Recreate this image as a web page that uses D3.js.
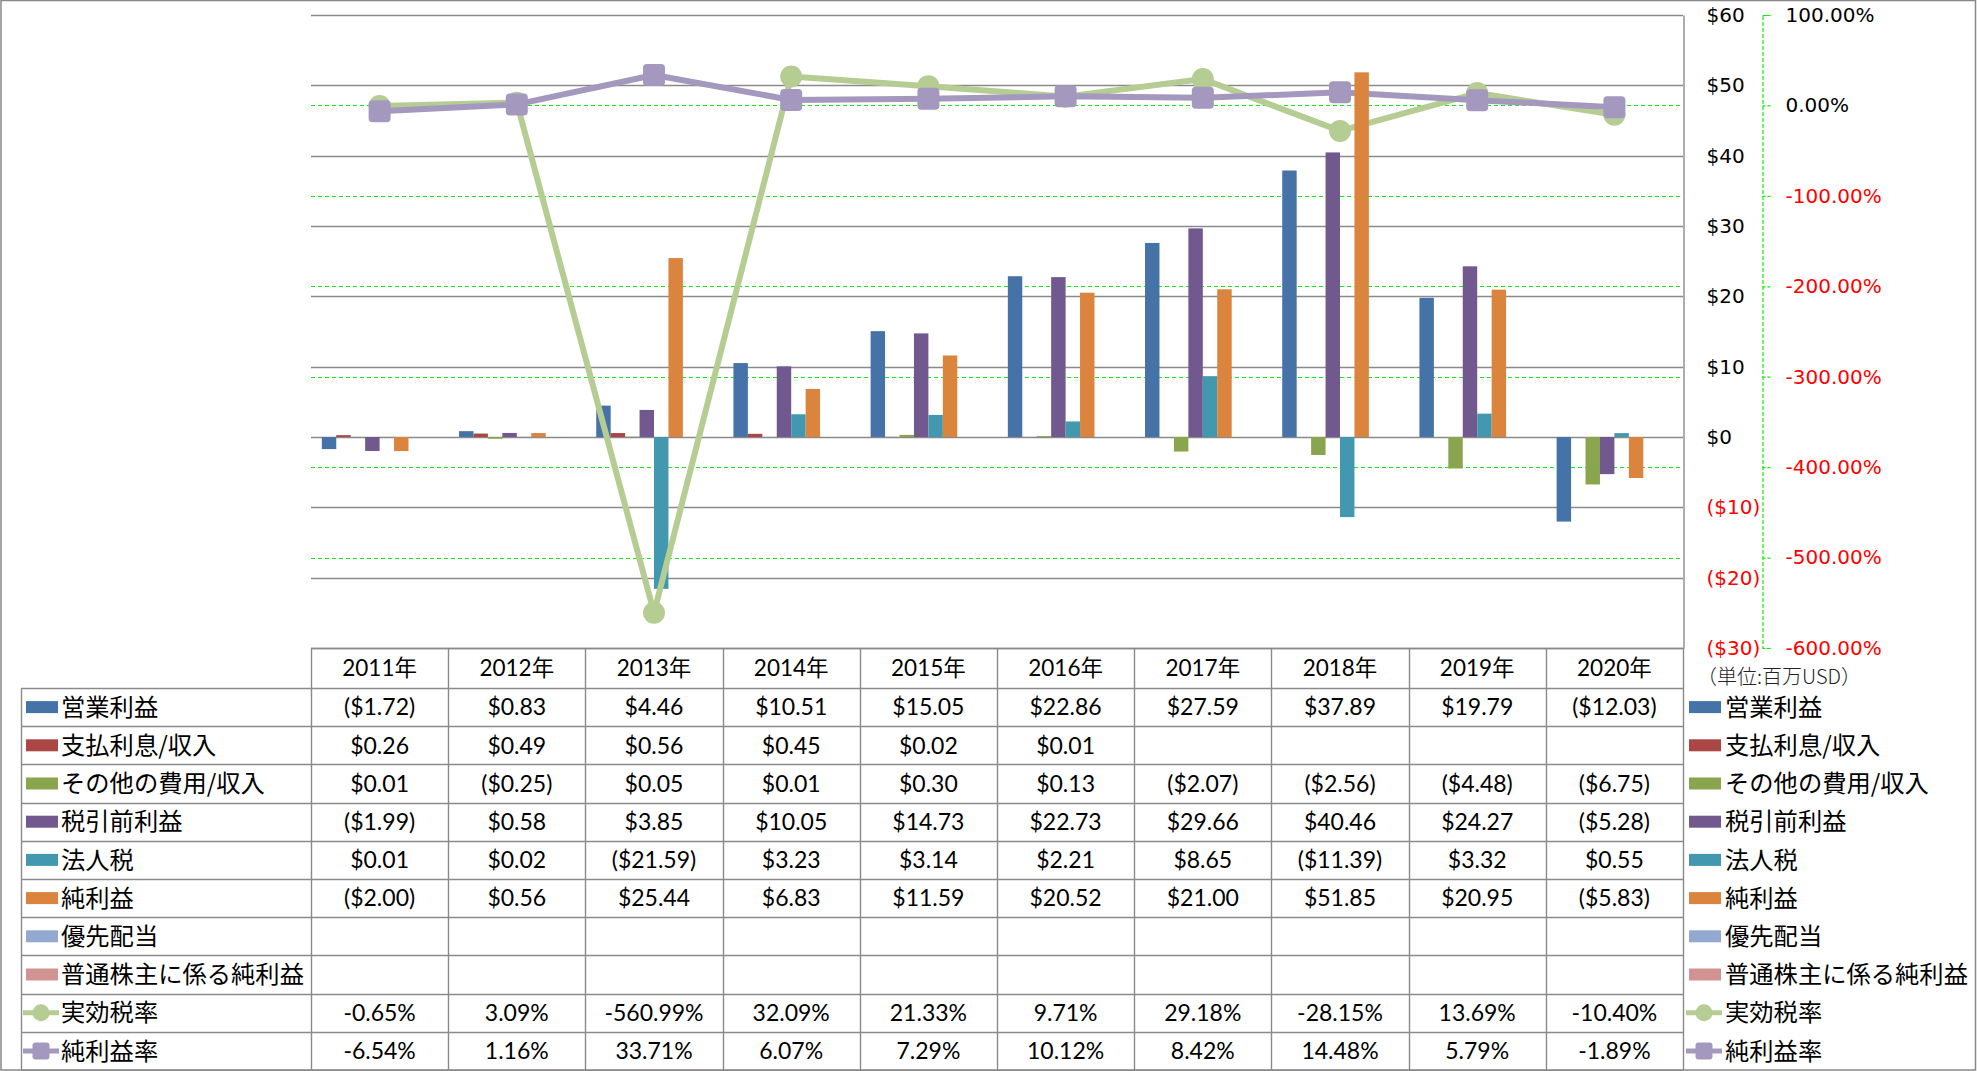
<!DOCTYPE html>
<html>
<head>
<meta charset="utf-8">
<script src="https://cdn.jsdelivr.net/npm/d3@7"></script>
<style>
  html, body { margin: 0; padding: 0; background: #fff; }
  svg { display: block; }
</style>
</head>
<body>
<svg id="chart" width="1977" height="1071"></svg>
<script>
// ---------------- DATA ----------------
const years = ["2011", "2012", "2013", "2014", "2015", "2016", "2017", "2018", "2019", "2020"];
const opIncome   = [-1.72, 0.83, 4.46, 10.51, 15.05, 22.86, 27.59, 37.89, 19.79, -12.03];
const interest   = [0.26, 0.49, 0.56, 0.45, 0.02, 0.01, null, null, null, null];
const otherExp   = [0.01, -0.25, 0.05, 0.01, 0.30, 0.13, -2.07, -2.56, -4.48, -6.75];
const preTax     = [-1.99, 0.58, 3.85, 10.05, 14.73, 22.73, 29.66, 40.46, 24.27, -5.28];
const incomeTax  = [0.01, 0.02, -21.59, 3.23, 3.14, 2.21, 8.65, -11.39, 3.32, 0.55];
const netIncome  = [-2.00, 0.56, 25.44, 6.83, 11.59, 20.52, 21.00, 51.85, 20.95, -5.83];
const preferred  = [null, null, null, null, null, null, null, null, null, null];
const commonNet  = [null, null, null, null, null, null, null, null, null, null];
const effTaxRate = [-0.65, 3.09, -560.99, 32.09, 21.33, 9.71, 29.18, -28.15, 13.69, -10.40];   // %
const netMargin  = [-6.54, 1.16, 33.71, 6.07, 7.29, 10.12, 8.42, 14.48, 5.79, -1.89];          // %

const leftTicks  = [-30, -20, -10, 0, 10, 20, 30, 40, 50, 60];
const rightTicks = [-600, -500, -400, -300, -200, -100, 0, 100];
const unitLabel  = "（単位:百万USD）";
const yearSuffix = "年";

const barSeries = [
  { name: "営業利益", values: opIncome, color: "#4572A7" },
  { name: "支払利息/収入", values: interest, color: "#AA4643" },
  { name: "その他の費用/収入", values: otherExp, color: "#89A54E" },
  { name: "税引前利益", values: preTax, color: "#71588F" },
  { name: "法人税", values: incomeTax, color: "#4198AF" },
  { name: "純利益", values: netIncome, color: "#DB843D" },
  { name: "優先配当", values: preferred, color: "#93A9CF" },
  { name: "普通株主に係る純利益", values: commonNet, color: "#D19392" }
];
const lineSeries = [
  { name: "実効税率", values: effTaxRate, color: "#B5CC93", marker: "circle" },
  { name: "純利益率", values: netMargin, color: "#A598BE", marker: "square" }
];

// ---------------- LAYOUT ----------------
const svg = d3.select("#chart");
const W = 1977, H = 1071;
const plotL = 311, plotR = 1683, plotT = 15, plotB = 648;
const tableLeft = 21, headerH = 40, rowH = 38.2;
const rowsTop = plotB + headerH;

const numFont = "Lato, 'Noto Sans CJK JP', sans-serif";
const jpFont = "'Noto Sans CJK JP', 'Noto Sans', sans-serif";
const axisFont = "'DejaVu Sans', Verdana, sans-serif";

const x = d3.scaleBand().domain(years).range([plotL, plotR]).padding(0);
const bw = x.bandwidth();
const slot = bw / 9.5;
const xs = d3.scaleBand().domain(barSeries.map(s => s.name)).range([0.75 * slot, bw - 0.75 * slot]).padding(0);
const yL = d3.scaleLinear().domain([-30, 60]).range([plotB, plotT]);
const yR = d3.scaleLinear().domain([-600, 100]).range([plotB, plotT]);

// outer border
svg.append("rect").attr("x", 1).attr("y", 0.5).attr("width", W - 2.5).attr("height", H - 1.5)
  .attr("fill", "#fff").attr("stroke", "#888").attr("stroke-width", 1.5);

// gridlines (primary)
svg.append("g").selectAll("line").data(leftTicks).join("line")
  .attr("x1", plotL).attr("x2", plotR)
  .attr("y1", d => Math.round(yL(d)) + 0.5).attr("y2", d => Math.round(yL(d)) + 0.5)
  .attr("stroke", "#8a8a8a").attr("stroke-width", 1.4);

// gridlines (secondary, green dashed)
svg.append("g").selectAll("line").data(rightTicks.filter(d => d < 100)).join("line")
  .attr("x1", plotL).attr("x2", plotR)
  .attr("y1", d => Math.round(yR(d)) + 0.5).attr("y2", d => Math.round(yR(d)) + 0.5)
  .attr("stroke", "#10f010").attr("stroke-width", 1.2).attr("stroke-dasharray", "4,3");

// bars drawn beneath lines
function drawBars(list) {
  const g = svg.append("g");
  list.forEach(s => {
    g.append("g").selectAll("rect")
      .data(years.map((yr, i) => ({ yr, v: s.values[i] })).filter(d => d.v !== null))
      .join("rect")
      .attr("x", d => x(d.yr) + xs(s.name))
      .attr("width", xs.bandwidth())
      .attr("y", d => yL(Math.max(0, d.v)))
      .attr("height", d => Math.abs(yL(d.v) - yL(0)))
      .attr("fill", s.color);
  });
}
drawBars(barSeries.slice(0, 5));

// lines
lineSeries.forEach(s => {
  const pts = years.map((yr, i) => ({ yr, v: s.values[i] }));
  const line = d3.line().x(d => x(d.yr) + bw / 2).y(d => yR(d.v));
  const g = svg.append("g");
  g.append("path").attr("d", line(pts)).attr("fill", "none")
    .attr("stroke", s.color).attr("stroke-width", 6).attr("stroke-linejoin", "round");
  if (s.marker === "circle") {
    g.selectAll("circle").data(pts).join("circle")
      .attr("cx", d => x(d.yr) + bw / 2).attr("cy", d => yR(d.v)).attr("r", 11)
      .attr("fill", s.color);
  } else {
    g.selectAll("rect").data(pts).join("rect")
      .attr("x", d => x(d.yr) + bw / 2 - 11).attr("y", d => yR(d.v) - 11)
      .attr("width", 22).attr("height", 22).attr("rx", 4)
      .attr("fill", s.color);
  }
});

// remaining bars over lines
drawBars(barSeries.slice(5));

// primary axis (right of plot)
const axL = d3.axisRight(yL).tickValues(leftTicks).tickSize(0).tickPadding(23)
  .tickFormat(d => d < 0 ? `($${-d})` : `$${d}`);
const gL = svg.append("g").attr("transform", `translate(${plotR + 0.5},0)`).call(axL);
gL.select(".domain").attr("stroke", "#8a8a8a").attr("stroke-width", 1.4);
gL.selectAll("text").attr("font-family", axisFont).attr("font-size", 20)
  .attr("fill", d => d < 0 ? "#ff0000" : "#000").attr("text-anchor", "start");

// secondary axis (green dashed)
const axR = d3.axisRight(yR).tickValues(rightTicks).tickSize(8).tickSizeOuter(8).tickPadding(15)
  .tickFormat(d => d.toFixed(2) + "%");
const gR = svg.append("g").attr("transform", `translate(${1762.5},0)`).call(axR);
gR.select(".domain").attr("stroke", "#10f010").attr("stroke-width", 1.2).attr("stroke-dasharray", "4,2");
gR.selectAll(".tick line").attr("stroke", "#10f010").attr("stroke-width", 1.2).attr("stroke-dasharray", "3,2");
gR.selectAll("text").attr("font-family", axisFont).attr("font-size", 20)
  .attr("fill", d => d < 0 ? "#ff0000" : "#000").attr("text-anchor", "start");

// unit label
svg.append("text").attr("x", 1697).attr("y", 677).attr("dy", "0.35em")
  .attr("font-family", jpFont).attr("font-size", 20).attr("font-weight", 300)
  .attr("fill", "#222").text(unitLabel);

// ---------------- DATA TABLE ----------------
const tbl = svg.append("g");
const gridColor = "#8a8a8a";
const allRows = [
  ...barSeries.map(s => ({ ...s, kind: "bar" })),
  ...lineSeries.map(s => ({ ...s, kind: "line" }))
];
const tableBottom = rowsTop + allRows.length * rowH;

// horizontal lines
tbl.append("line").attr("x1", plotL).attr("x2", plotR).attr("y1", plotB + 0.5).attr("y2", plotB + 0.5)
  .attr("stroke", gridColor).attr("stroke-width", 1.4);
d3.range(allRows.length + 1).forEach(i => {
  const yy = Math.round(rowsTop + i * rowH) + 0.5;
  tbl.append("line").attr("x1", tableLeft).attr("x2", plotR).attr("y1", yy).attr("y2", yy)
    .attr("stroke", gridColor).attr("stroke-width", 1.4);
});
// vertical lines
[...years.map(y => x(y)), plotR].forEach(xx => {
  tbl.append("line").attr("x1", Math.round(xx) + 0.5).attr("x2", Math.round(xx) + 0.5)
    .attr("y1", plotB).attr("y2", tableBottom).attr("stroke", gridColor).attr("stroke-width", 1.4);
});
tbl.append("line").attr("x1", tableLeft + 0.5).attr("x2", tableLeft + 0.5)
  .attr("y1", rowsTop).attr("y2", tableBottom).attr("stroke", gridColor).attr("stroke-width", 1.4);

// header
tbl.selectAll("text.hdr").data(years).join("text").attr("class", "hdr")
  .attr("x", d => x(d) + bw / 2).attr("y", plotB + headerH / 2).attr("dy", "0.36em")
  .attr("text-anchor", "middle").attr("font-family", numFont).attr("font-size", 22.5)
  .attr("fill", "#000").text(d => d + yearSuffix);

function fmtMoney(v) { return v < 0 ? `($${(-v).toFixed(2)})` : `$${v.toFixed(2)}`; }
function fmtPct(v) { return v.toFixed(2) + "%"; }

function drawKey(g, s, cx0, cy) {
  if (s.kind === "bar") {
    g.append("rect").attr("x", cx0).attr("y", cy - 6).attr("width", 32).attr("height", 12).attr("fill", s.color);
  } else {
    g.append("line").attr("x1", cx0 - 3).attr("x2", cx0 + 33).attr("y1", cy).attr("y2", cy)
      .attr("stroke", s.color).attr("stroke-width", 5);
    if (s.marker === "circle") {
      g.append("circle").attr("cx", cx0 + 15).attr("cy", cy).attr("r", 8.5).attr("fill", s.color);
    } else {
      g.append("rect").attr("x", cx0 + 6.5).attr("y", cy - 8.5).attr("width", 17).attr("height", 17)
        .attr("rx", 3).attr("fill", s.color);
    }
  }
}

allRows.forEach((s, i) => {
  const cy = rowsTop + i * rowH + rowH / 2;
  drawKey(tbl, s, 26, cy);
  tbl.append("text").attr("x", 61).attr("y", cy).attr("dy", "0.36em")
    .attr("font-family", jpFont).attr("font-size", 24.3).attr("fill", "#000").text(s.name);
  drawKey(tbl, s, 1689, cy);
  tbl.append("text").attr("x", 1725).attr("y", cy).attr("dy", "0.36em")
    .attr("font-family", jpFont).attr("font-size", 24.3).attr("fill", "#000").text(s.name);
  const fmt = s.kind === "bar" ? fmtMoney : fmtPct;
  tbl.append("g").selectAll("text")
    .data(years.map((yr, j) => ({ yr, v: s.values[j] })).filter(d => d.v !== null))
    .join("text")
    .attr("x", d => x(d.yr) + bw / 2).attr("y", cy).attr("dy", "0.36em")
    .attr("text-anchor", "middle").attr("font-family", numFont).attr("font-size", 23)
    .attr("fill", "#000").text(d => fmt(d.v));
});
</script>
</body>
</html>
